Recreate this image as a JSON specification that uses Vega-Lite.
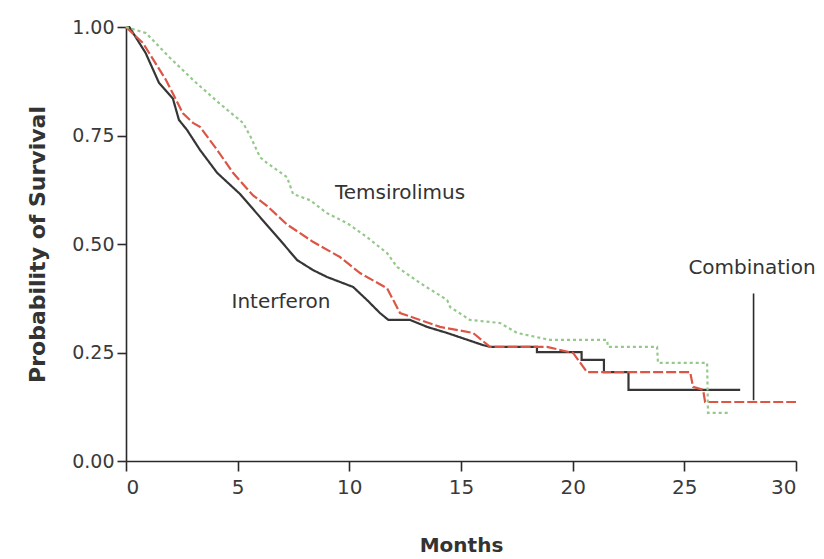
{
  "$schema": "https://vega.github.io/schema/vega-lite/v6.json",
  "width": 670,
  "height": 434,
  "autosize": "none",
  "padding": {"left": 126, "top": 27, "right": 28, "bottom": 98},
  "background": "#ffffff",
  "config": {
    "view": {"stroke": null},
    "font": "DejaVu Sans",
    "axis": {
      "grid": false,
      "domainColor": "#2a2a2a",
      "domainWidth": 1.6,
      "tickColor": "#2a2a2a",
      "tickWidth": 1.6,
      "labelFont": "DejaVu Sans",
      "labelColor": "#3a3a3a",
      "titleFont": "DejaVu Sans",
      "titleFontWeight": "bold",
      "titleColor": "#333333"
    }
  },
  "datasets": {
    "curves": [
      {"arm": "Interferon", "month": 0, "p": 1.0},
      {"arm": "Interferon", "month": 0.15, "p": 1.0},
      {"arm": "Interferon", "month": 0.88, "p": 0.94},
      {"arm": "Interferon", "month": 1.48, "p": 0.871},
      {"arm": "Interferon", "month": 2.1, "p": 0.835},
      {"arm": "Interferon", "month": 2.37, "p": 0.786},
      {"arm": "Interferon", "month": 2.73, "p": 0.763},
      {"arm": "Interferon", "month": 3.31, "p": 0.717},
      {"arm": "Interferon", "month": 4.08, "p": 0.664},
      {"arm": "Interferon", "month": 5.11, "p": 0.615},
      {"arm": "Interferon", "month": 6.0, "p": 0.562},
      {"arm": "Interferon", "month": 6.9, "p": 0.509},
      {"arm": "Interferon", "month": 7.66, "p": 0.463},
      {"arm": "Interferon", "month": 8.37, "p": 0.44},
      {"arm": "Interferon", "month": 9.0, "p": 0.424},
      {"arm": "Interferon", "month": 10.17, "p": 0.401},
      {"arm": "Interferon", "month": 10.79, "p": 0.371},
      {"arm": "Interferon", "month": 11.37, "p": 0.341},
      {"arm": "Interferon", "month": 11.75, "p": 0.325},
      {"arm": "Interferon", "month": 12.72, "p": 0.325},
      {"arm": "Interferon", "month": 13.48, "p": 0.309},
      {"arm": "Interferon", "month": 14.38, "p": 0.295},
      {"arm": "Interferon", "month": 15.99, "p": 0.267},
      {"arm": "Interferon", "month": 16.3, "p": 0.263},
      {"arm": "Interferon", "month": 18.4, "p": 0.263},
      {"arm": "Interferon", "month": 18.4, "p": 0.251},
      {"arm": "Interferon", "month": 20.4, "p": 0.251},
      {"arm": "Interferon", "month": 20.4, "p": 0.233},
      {"arm": "Interferon", "month": 21.4, "p": 0.233},
      {"arm": "Interferon", "month": 21.4, "p": 0.205},
      {"arm": "Interferon", "month": 22.5, "p": 0.205},
      {"arm": "Interferon", "month": 22.5, "p": 0.164},
      {"arm": "Interferon", "month": 27.5, "p": 0.164},
      {"arm": "Combination", "month": 0, "p": 1.0},
      {"arm": "Combination", "month": 0.76, "p": 0.963},
      {"arm": "Combination", "month": 1.79, "p": 0.878},
      {"arm": "Combination", "month": 2.55, "p": 0.801},
      {"arm": "Combination", "month": 3.0, "p": 0.779},
      {"arm": "Combination", "month": 3.31, "p": 0.77},
      {"arm": "Combination", "month": 4.08, "p": 0.717},
      {"arm": "Combination", "month": 4.79, "p": 0.664},
      {"arm": "Combination", "month": 5.69, "p": 0.612},
      {"arm": "Combination", "month": 6.31, "p": 0.588},
      {"arm": "Combination", "month": 7.21, "p": 0.545},
      {"arm": "Combination", "month": 8.37, "p": 0.505},
      {"arm": "Combination", "month": 9.58, "p": 0.47},
      {"arm": "Combination", "month": 10.48, "p": 0.433},
      {"arm": "Combination", "month": 11.69, "p": 0.398},
      {"arm": "Combination", "month": 12.27, "p": 0.341},
      {"arm": "Combination", "month": 13.17, "p": 0.325},
      {"arm": "Combination", "month": 14.06, "p": 0.309},
      {"arm": "Combination", "month": 15.54, "p": 0.295},
      {"arm": "Combination", "month": 16.3, "p": 0.263},
      {"arm": "Combination", "month": 18.85, "p": 0.263},
      {"arm": "Combination", "month": 20.02, "p": 0.249},
      {"arm": "Combination", "month": 20.64, "p": 0.205},
      {"arm": "Combination", "month": 25.26, "p": 0.205},
      {"arm": "Combination", "month": 25.39, "p": 0.171},
      {"arm": "Combination", "month": 25.84, "p": 0.164},
      {"arm": "Combination", "month": 25.93, "p": 0.136},
      {"arm": "Combination", "month": 30, "p": 0.136},
      {"arm": "Temsirolimus", "month": 0, "p": 1.0},
      {"arm": "Temsirolimus", "month": 0.9, "p": 0.986},
      {"arm": "Temsirolimus", "month": 1.93, "p": 0.931},
      {"arm": "Temsirolimus", "month": 3.0, "p": 0.878},
      {"arm": "Temsirolimus", "month": 4.16, "p": 0.825},
      {"arm": "Temsirolimus", "month": 5.24, "p": 0.779},
      {"arm": "Temsirolimus", "month": 5.6, "p": 0.745},
      {"arm": "Temsirolimus", "month": 6.0, "p": 0.7},
      {"arm": "Temsirolimus", "month": 6.31, "p": 0.687},
      {"arm": "Temsirolimus", "month": 7.21, "p": 0.654},
      {"arm": "Temsirolimus", "month": 7.48, "p": 0.615},
      {"arm": "Temsirolimus", "month": 8.24, "p": 0.601},
      {"arm": "Temsirolimus", "month": 9.0, "p": 0.571},
      {"arm": "Temsirolimus", "month": 9.9, "p": 0.548},
      {"arm": "Temsirolimus", "month": 10.79, "p": 0.516},
      {"arm": "Temsirolimus", "month": 11.69, "p": 0.479},
      {"arm": "Temsirolimus", "month": 12.14, "p": 0.447},
      {"arm": "Temsirolimus", "month": 13.17, "p": 0.41},
      {"arm": "Temsirolimus", "month": 14.38, "p": 0.371},
      {"arm": "Temsirolimus", "month": 14.51, "p": 0.355},
      {"arm": "Temsirolimus", "month": 15.4, "p": 0.325},
      {"arm": "Temsirolimus", "month": 16.75, "p": 0.318},
      {"arm": "Temsirolimus", "month": 17.51, "p": 0.295},
      {"arm": "Temsirolimus", "month": 18.99, "p": 0.279},
      {"arm": "Temsirolimus", "month": 21.54, "p": 0.279},
      {"arm": "Temsirolimus", "month": 21.58, "p": 0.263},
      {"arm": "Temsirolimus", "month": 23.78, "p": 0.263},
      {"arm": "Temsirolimus", "month": 23.82, "p": 0.226},
      {"arm": "Temsirolimus", "month": 26.02, "p": 0.226},
      {"arm": "Temsirolimus", "month": 26.06, "p": 0.111},
      {"arm": "Temsirolimus", "month": 26.96, "p": 0.111}
    ],
    "labels": [
      {"label": "Temsirolimus", "month": 12.27, "p": 0.617},
      {"label": "Interferon", "month": 6.94, "p": 0.366},
      {"label": "Combination", "month": 28.03, "p": 0.445}
    ],
    "pointer": [
      {"month": 28.1, "p": 0.386, "p2": 0.14}
    ]
  },
  "layer": [
    {
      "data": {"name": "curves"},
      "mark": {"type": "line", "strokeWidth": 2.2},
      "encoding": {
        "x": {
          "field": "month", "type": "quantitative",
          "scale": {"domain": [0, 30], "nice": false, "zero": false},
          "axis": {"values": [0, 5, 10, 15, 20, 25, 30], "tickSize": 10, "labelPadding": 6, "labelFontSize": 20, "title": "Months", "titleFontSize": 20, "titlePadding": 38, "format": "d"}
        },
        "y": {
          "field": "p", "type": "quantitative",
          "scale": {"domain": [0, 1], "nice": false},
          "axis": {"values": [0, 0.25, 0.5, 0.75, 1], "format": ".2f", "tickSize": 9, "labelPadding": 3, "labelFontSize": 19, "title": "Probability of Survival", "titleFontSize": 22, "titlePadding": 22}
        },
        "order": {"field": "month", "type": "quantitative"},
        "color": {
          "field": "arm", "type": "nominal",
          "scale": {"domain": ["Interferon", "Combination", "Temsirolimus"], "range": ["#363636", "#dc5646", "#95c98c"]},
          "legend": null
        },
        "strokeDash": {
          "field": "arm", "type": "nominal",
          "scale": {"domain": ["Interferon", "Combination", "Temsirolimus"], "range": [[1, 0], [10, 3], [3, 3]]},
          "legend": null
        }
      }
    },
    {
      "data": {"name": "pointer"},
      "mark": {"type": "rule", "color": "#2a2a2a", "strokeWidth": 1.6},
      "encoding": {
        "x": {"field": "month", "type": "quantitative"},
        "y": {"field": "p", "type": "quantitative"},
        "y2": {"field": "p2"}
      }
    },
    {
      "data": {"name": "labels"},
      "mark": {"type": "text", "fontSize": 20, "color": "#333333", "align": "center", "baseline": "middle"},
      "encoding": {
        "x": {"field": "month", "type": "quantitative"},
        "y": {"field": "p", "type": "quantitative"},
        "text": {"field": "label"}
      }
    }
  ]
}
